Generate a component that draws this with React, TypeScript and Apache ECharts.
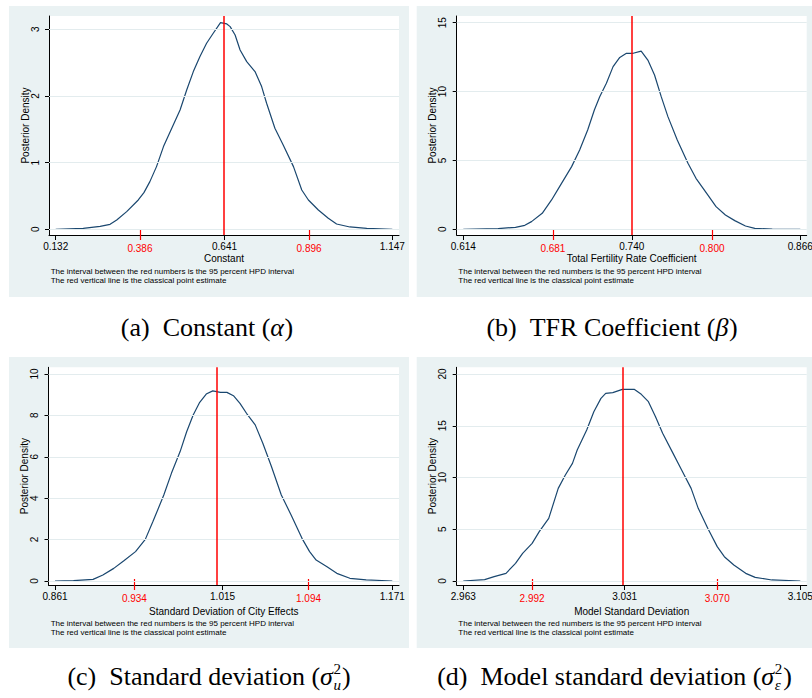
import React, { useEffect, useRef } from "react";
import * as echarts from "echarts";

// ---------- data ----------
const constantDensity: [number, number][] = [
  [0.132, 0], [0.215, 0.015], [0.266, 0.045], [0.296, 0.075], [0.316, 0.14], [0.346, 0.265],
  [0.381, 0.44], [0.398, 0.55], [0.416, 0.715], [0.436, 0.94], [0.457, 1.24], [0.482, 1.515],
  [0.507, 1.79], [0.527, 2.09], [0.547, 2.365], [0.567, 2.59], [0.587, 2.79], [0.607, 2.94],
  [0.629, 3.1], [0.648, 3.08], [0.658, 3.04], [0.673, 2.915], [0.688, 2.69], [0.708, 2.515],
  [0.733, 2.365], [0.753, 2.14], [0.768, 1.89], [0.793, 1.515], [0.818, 1.265], [0.849, 0.94],
  [0.874, 0.59], [0.894, 0.44], [0.924, 0.29], [0.954, 0.165], [0.979, 0.08], [1.019, 0.035],
  [1.07, 0.015], [1.147, 0],
];
const tfrDensity: [number, number][] = [
  [0.614, 0], [0.64, 0.05], [0.653, 0.145], [0.66, 0.29], [0.665, 0.556], [0.673, 1.16],
  [0.68, 2.13], [0.686, 3.1], [0.695, 4.55], [0.701, 5.76], [0.707, 7.21], [0.712, 8.66],
  [0.716, 9.63], [0.721, 10.6], [0.726, 11.81], [0.731, 12.48], [0.736, 12.78], [0.741, 12.78],
  [0.747, 12.94], [0.752, 12.29], [0.757, 11.2], [0.762, 9.63], [0.767, 8.18], [0.774, 6.48],
  [0.782, 4.79], [0.788, 3.7], [0.796, 2.61], [0.803, 1.645], [0.81, 1.04], [0.817, 0.63],
  [0.825, 0.24], [0.832, 0.073], [0.845, 0.01], [0.866, 0],
];
const cityEffectsDensity: [number, number][] = [
  [0.861, 0], [0.878, 0.016], [0.896, 0.08], [0.905, 0.29], [0.915, 0.61], [0.924, 0.97],
  [0.935, 1.42], [0.944, 2.01], [0.951, 2.87], [0.961, 4.15], [0.968, 5.2], [0.976, 6.25],
  [0.982, 7.21], [0.988, 8.02], [0.994, 8.63], [1.0, 9.03], [1.006, 9.18], [1.013, 9.11],
  [1.019, 9.11], [1.025, 8.95], [1.031, 8.58], [1.037, 8.1], [1.045, 7.54], [1.052, 6.65],
  [1.06, 5.52], [1.069, 4.15], [1.078, 3.19], [1.088, 2.06], [1.095, 1.42], [1.101, 1.01],
  [1.111, 0.69], [1.12, 0.37], [1.132, 0.13], [1.147, 0.05], [1.171, 0],
];
const modelSdDensity: [number, number][] = [
  [2.963, 0], [2.972, 0.13], [2.976, 0.42], [2.981, 0.74], [2.985, 1.71], [2.988, 2.67],
  [2.992, 3.64], [2.995, 4.77], [2.999, 6.05], [3.003, 8.95], [3.006, 10.24], [3.009, 11.37],
  [3.011, 12.66], [3.015, 14.59], [3.018, 16.36], [3.021, 17.65], [3.023, 18.13], [3.026, 18.2],
  [3.03, 18.52], [3.035, 18.52], [3.038, 18.04], [3.041, 17.33], [3.044, 15.88], [3.047, 14.27],
  [3.051, 12.5], [3.055, 10.72], [3.059, 8.95], [3.062, 7.02], [3.066, 5.09], [3.07, 3.32],
  [3.073, 2.35], [3.077, 1.55], [3.082, 0.74], [3.086, 0.35], [3.093, 0.1], [3.105, 0],
];
const densities = [constantDensity, tfrDensity, cityEffectsDensity, modelSdDensity];

const xLabelValues = [
  [0.132, 0.641, 1.147],
  [0.614, 0.74, 0.866],
  [0.861, 1.015, 1.171],
  [2.963, 3.031, 3.105],
];
const hpdIntervals = [
  [0.386, 0.896],
  [0.681, 0.8],
  [0.934, 1.094],
  [2.992, 3.07],
];
const pointEstimates = [0.641, 0.74, 1.015, 3.028];
const yTickValues = [
  [0, 1, 2, 3],
  [0, 5, 10, 15],
  [0, 2, 4, 6, 8, 10],
  [0, 5, 10, 15, 20],
];
const xAxisTitles = [
  "Constant",
  "Total Fertility Rate Coefficient",
  "Standard Deviation of City Effects",
  "Model Standard Deviation",
];
const yAxisTitle = "Posterior Density";
const noteLines = [
  "The interval between the red numbers is the 95 percent HPD interval",
  "The red vertical line is the classical point estimate",
];
const captionLabels = ["(a)", "(b)", "(c)", "(d)"];
const captionTitles = ["Constant", "TFR Coefficient", "Standard deviation", "Model standard deviation"];
const captionSymbols = ["α", "β", "σ", "σ"];
const captionSup = ["", "", "2", "2"];
const captionSub = ["", "", "u", "ε"];

// ---------- layout ----------
const panelLayout = [
  { bg: [9, 6, 400, 291], grid: { left: 49, top: 16, width: 350, height: 219 }, xExtent: [0.1118, 1.1672], yExtent: [-0.0855, 3.199], titleGap: 18.5, noteX: 50.7, noteY: 271.5, capX: 207, capY: 327 },
  { bg: [416.7, 6, 395.3, 291], grid: { left: 456.7, top: 16, width: 350, height: 219 }, xExtent: [0.60906, 0.87079], yExtent: [-0.414, 15.487], titleGap: 18.5, noteX: 458.3, noteY: 271.5, capX: 612, capY: 327 },
  { bg: [9, 357, 400, 291], grid: { left: 48.5, top: 367.3, width: 350.5, height: 217.7 }, xExtent: [0.85503, 1.17716], yExtent: [-0.193, 10.32], titleGap: 21, noteX: 50.7, noteY: 623, capX: 209, capY: 676 },
  { bg: [416.7, 357, 395.3, 291], grid: { left: 456.7, top: 367.3, width: 350, height: 217.7 }, xExtent: [2.96022, 3.1077], yExtent: [-0.386, 20.65], titleGap: 21, noteX: 458.3, noteY: 623, capX: 614.5, capY: 676 },
];

const SANS = "'Liberation Sans', Arial, sans-serif";
const SERIF = "'Liberation Serif', 'Times New Roman', serif";
const PANEL_BG = "#eaf2f3";
const GRID_LINE = "#e3ecee";
const NAVY = "#1a476f";
const RED = "#ff0000";

function measure(ctx: CanvasRenderingContext2D, text: string, size: number, italic: boolean) {
  ctx.font = `${italic ? "italic " : ""}${size}px ${SERIF}`;
  return ctx.measureText(text).width;
}

function buildCaption(i: number, cx: number, cy: number) {
  const ctx = document.createElement("canvas").getContext("2d") as CanvasRenderingContext2D;
  const big = 26;
  const small = 15;
  const pieces: { text: string; size: number; italic: boolean; x: number; dy: number }[] = [];
  let x = 0;
  const main = `${captionLabels[i]}\u2002${captionTitles[i]} (`;
  pieces.push({ text: main, size: big, italic: false, x, dy: 0 });
  x += measure(ctx, main, big, false);
  pieces.push({ text: captionSymbols[i], size: big, italic: true, x, dy: 0 });
  x += measure(ctx, captionSymbols[i], big, true) + 0.5;
  if (captionSup[i]) {
    pieces.push({ text: captionSup[i], size: small, italic: false, x, dy: -7.5 });
    pieces.push({ text: captionSub[i], size: small, italic: true, x, dy: 8.5 });
    x += Math.max(measure(ctx, captionSup[i], small, false), measure(ctx, captionSub[i], small, true)) + 1;
  }
  pieces.push({ text: ")", size: big, italic: false, x, dy: 0 });
  x += measure(ctx, ")", big, false);
  const start = cx - x / 2;
  return pieces.map((p) => ({
    type: "text",
    x: start + p.x,
    y: cy + p.dy,
    silent: true,
    style: {
      text: p.text,
      fontSize: p.size,
      fontFamily: SERIF,
      fontStyle: p.italic ? "italic" : "normal",
      fill: "#000",
      align: "left",
      verticalAlign: "middle",
    },
  }));
}

const fmt3 = (v: number) => v.toFixed(3);

export default function App() {
  const ref = useRef<HTMLDivElement>(null);
  useEffect(() => {
    if (!ref.current) return;
    const chart = echarts.init(ref.current, undefined, { renderer: "svg" });

    const grids: any[] = [];
    const xAxes: any[] = [];
    const yAxes: any[] = [];
    const series: any[] = [];
    const graphics: any[] = [];

    panelLayout.forEach((p, i) => {
      grids.push({
        ...p.grid,
        show: true,
        backgroundColor: "#ffffff",
        borderWidth: 0,
        containLabel: false,
        outerBoundsMode: "none",
      });
      // main x axis (black labels)
      xAxes.push({
        type: "value",
        gridIndex: i,
        position: "bottom",
        min: p.xExtent[0],
        max: p.xExtent[1],
        axisLine: { show: true, onZero: false, lineStyle: { color: "#000", width: 1 } },
        axisTick: { show: true, inside: false, length: 5, customValues: xLabelValues[i], lineStyle: { color: "#000", width: 1 } },
        axisLabel: { show: true, customValues: xLabelValues[i], formatter: fmt3, margin: 6, fontSize: 10, fontFamily: SANS, color: "#000" },
        splitLine: { show: false },
        name: xAxisTitles[i],
        nameLocation: "middle",
        nameGap: p.titleGap,
        nameMoveOverlap: false,
        nameTextStyle: { fontSize: 10, fontFamily: SANS, color: "#000" },
      });
      // red HPD interval axis
      xAxes.push({
        type: "value",
        gridIndex: i,
        position: "bottom",
        offset: -6,
        min: p.xExtent[0],
        max: p.xExtent[1],
        axisLine: { show: false, onZero: false },
        axisTick: { show: true, inside: false, length: 11, customValues: hpdIntervals[i], lineStyle: { color: RED, width: 1.2 } },
        axisLabel: { show: true, customValues: hpdIntervals[i], formatter: fmt3, margin: 14, fontSize: 10, fontFamily: SANS, color: RED },
        splitLine: { show: false },
      });
      yAxes.push({
        type: "value",
        gridIndex: i,
        position: "left",
        min: p.yExtent[0],
        max: p.yExtent[1],
        axisLine: { show: true, onZero: false, lineStyle: { color: "#000", width: 1 } },
        axisTick: { show: true, inside: false, length: 4, customValues: yTickValues[i], lineStyle: { color: "#000", width: 1 } },
        axisLabel: { show: true, customValues: yTickValues[i], rotate: 90, margin: 9, fontSize: 10, fontFamily: SANS, color: "#000" },
        splitLine: { show: false },
        name: yAxisTitle,
        nameLocation: "middle",
        nameGap: 19,
        nameMoveOverlap: false,
        nameTextStyle: { fontSize: 10, fontFamily: SANS, color: "#000" },
      });
      // horizontal grid lines
      series.push({
        type: "line",
        xAxisIndex: 2 * i,
        yAxisIndex: i,
        data: [],
        silent: true,
        z: 1,
        markLine: {
          silent: true,
          symbol: ["none", "none"],
          label: { show: false },
          emphasis: { disabled: true },
          lineStyle: { color: GRID_LINE, width: 1, type: "solid" },
          data: yTickValues[i].map((v) => ({ yAxis: v })),
        },
      });
      // density curve + point estimate line
      series.push({
        type: "line",
        xAxisIndex: 2 * i,
        yAxisIndex: i,
        data: densities[i],
        showSymbol: false,
        symbol: "none",
        silent: true,
        z: 2,
        lineStyle: { color: NAVY, width: 1.2 },
        markLine: {
          silent: true,
          symbol: ["none", "none"],
          label: { show: false },
          emphasis: { disabled: true },
          lineStyle: { color: RED, width: 1.5, type: "solid" },
          data: [{ xAxis: pointEstimates[i] }],
        },
      });

      graphics.push({
        type: "rect",
        z: -100,
        silent: true,
        shape: { x: p.bg[0], y: p.bg[1], width: p.bg[2], height: p.bg[3] },
        style: { fill: PANEL_BG },
      });
      noteLines.forEach((t, k) => {
        graphics.push({
          type: "text",
          x: p.noteX,
          y: p.noteY + k * 9,
          silent: true,
          style: { text: t, fontSize: 8, fontFamily: SANS, fill: "#000", align: "left", verticalAlign: "middle" },
        });
      });
      graphics.push(...buildCaption(i, p.capX, p.capY));
    });

    chart.setOption({
      animation: false,
      backgroundColor: "#ffffff",
      grid: grids,
      xAxis: xAxes,
      yAxis: yAxes,
      series,
      graphic: graphics,
    });
    return () => chart.dispose();
  }, []);

  return (
    <div
      ref={ref}
      style={{ position: "fixed", left: 0, top: 0, width: 812, height: 698 }}
    />
  );
}
